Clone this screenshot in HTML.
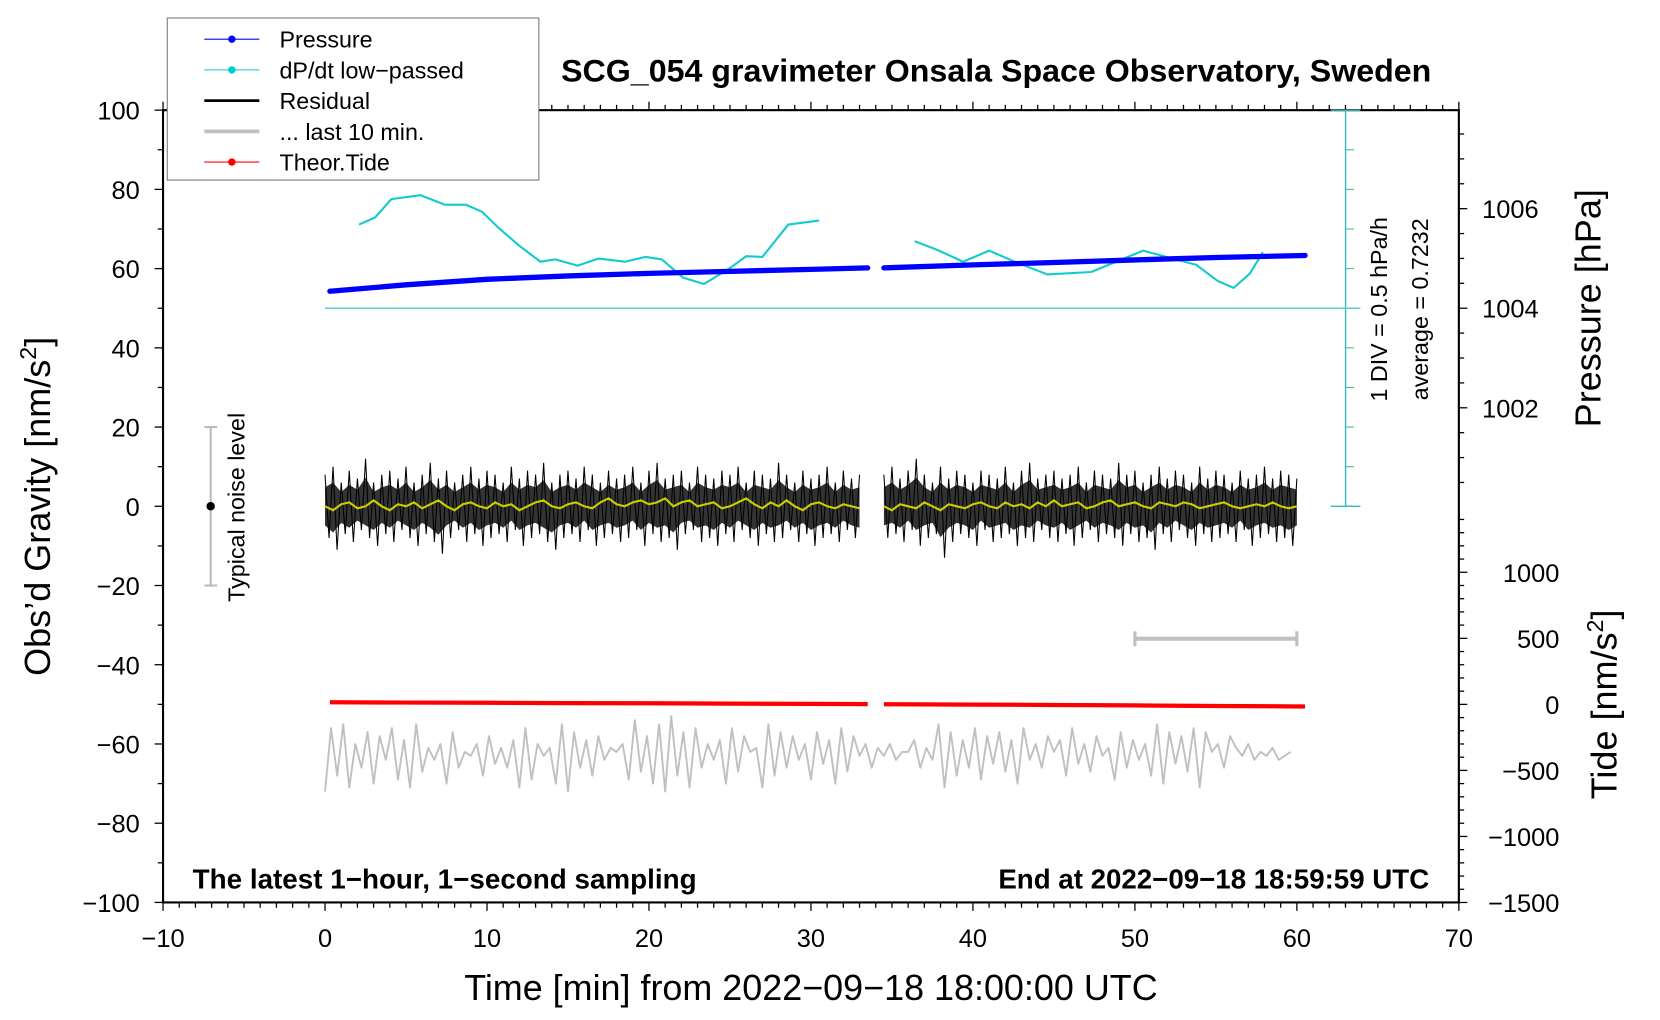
<!DOCTYPE html>
<html><head><meta charset="utf-8"><style>
html,body{margin:0;padding:0;background:#fff;width:1660px;height:1020px;overflow:hidden}
svg{display:block;font-family:"Liberation Sans",sans-serif}
</style></head><body>
<svg id="chart" width="1660" height="1020" viewBox="0 0 1568 963" preserveAspectRatio="none" xmlns="http://www.w3.org/2000/svg">
<g id="axes"></g>
<g id="series"></g>
<text x="941" y="77" text-anchor="middle" font-size="30" font-weight="bold" textLength="822" lengthAdjust="spacingAndGlyphs">SCG_054 gravimeter Onsala Space Observatory, Sweden</text>
<text x="766" y="944" text-anchor="middle" font-size="34" textLength="655" lengthAdjust="spacingAndGlyphs">Time [min] from 2022−09−18 18:00:00 UTC</text>
<text transform="translate(47,478) rotate(-90)" text-anchor="middle" font-size="34">Obs’d Gravity [nm/s<tspan dy="-13" font-size="22">2</tspan><tspan dy="13">]</tspan></text>
<text transform="translate(1512,291) rotate(-90)" text-anchor="middle" font-size="34">Pressure [hPa]</text>
<text transform="translate(1527,665) rotate(-90)" text-anchor="middle" font-size="34">Tide [nm/s<tspan dy="-13" font-size="22">2</tspan><tspan dy="13">]</tspan></text>
<text x="182" y="839" font-size="26" font-weight="bold" textLength="476" lengthAdjust="spacingAndGlyphs">The latest 1−hour, 1−second sampling</text>
<text x="943" y="839" font-size="26" font-weight="bold" textLength="407" lengthAdjust="spacingAndGlyphs">End at 2022−09−18 18:59:59 UTC</text>
<text transform="translate(1310,292) rotate(-90)" text-anchor="middle" font-size="22">1 DIV = 0.5 hPa/h</text>
<text transform="translate(1349,292) rotate(-90)" text-anchor="middle" font-size="22">average = 0.7232</text>
<text transform="translate(231,479) rotate(-90)" text-anchor="middle" font-size="22">Typical noise level</text>
<g>
<rect x="158" y="17" width="351" height="153" fill="#fff" stroke="#777" stroke-width="1"/>
<g><line x1="193" y1="37" x2="245" y2="37" stroke="#00f" stroke-width="1"/><circle cx="219" cy="37" r="3.5" fill="#00f"/><text x="264" y="45" font-size="22">Pressure</text></g>
<g><line x1="193" y1="66" x2="245" y2="66" stroke="#0cc" stroke-width="1"/><circle cx="219" cy="66" r="3.5" fill="#0cc"/><text x="264" y="74" font-size="22">dP/dt low−passed</text></g>
<g><line x1="193" y1="95" x2="245" y2="95" stroke="#000" stroke-width="2.5"/><text x="264" y="103" font-size="22">Residual</text></g>
<g><line x1="193" y1="124" x2="245" y2="124" stroke="#c0c0c0" stroke-width="3.5"/><text x="264" y="132" font-size="22">... last 10 min.</text></g>
<g><line x1="193" y1="153" x2="245" y2="153" stroke="#f00" stroke-width="1"/><circle cx="219" cy="153" r="3.5" fill="#f00"/><text x="264" y="161" font-size="22">Theor.Tide</text></g>
</g>
</svg>
<script>
// ---- data ----
const pressT1 = [0.3,5,10,15,20,25,30,33.5];
const pressV1 = [1004.34,1004.47,1004.58,1004.65,1004.70,1004.74,1004.78,1004.81];
const pressT2 = [34.5,40,45,50,55,60.5];
const pressV2 = [1004.81,1004.87,1004.92,1004.97,1005.02,1005.06];
const dpdtT1 = [2.1,3.1,4.1,5.9,7.4,8.7,9.7,10.7,12.0,13.3,14.2,15.6,16.9,18.5,19.8,20.8,22.1,23.4,25.0,26.0,27.0,28.6,30.5];
const dpdtV1 = [1.78,1.87,2.10,2.15,2.03,2.03,1.94,1.74,1.51,1.31,1.34,1.26,1.35,1.31,1.37,1.34,1.11,1.03,1.23,1.38,1.37,1.78,1.83];
const dpdtT2 = [36.4,37.8,39.4,41.0,42.7,44.6,47.3,49.2,50.5,51.8,53.8,55.1,56.1,57.1,57.9];
const dpdtV2 = [1.57,1.46,1.31,1.45,1.30,1.15,1.18,1.34,1.45,1.38,1.27,1.07,0.98,1.16,1.43];
const dpdtAverage = 0.7232;
const resHi = [8,10,6,9,7,12,6,8,9,7, 10,6,8,11,7,9,6,8,10,7, 9,8,6,10,7,9,8,11,6,8, 9,7,10,8,6,9,7,8,10,6, 9,11,7,8,9,6,10,8,7,9, 8,10,6,9,8,7,11,8,6,9, 7,8,10,6,9,7,8,null,null,8, 10,7,9,12,8,6,10,7,9,8, 6,9,8,7,10,6,9,11,7,8, 9,7,8,10,6,9,8,7,11,8, 9,6,8,10,7,9,8,6,10,7, 9,8,6,9,7,8,10,7,9,8, 7];
const resLo = [-8,-11,-7,-9,-6,-8,-10,-7,-9,-6, -8,-10,-7,-9,-12,-8,-6,-9,-7,-10, -8,-7,-9,-6,-10,-8,-7,-9,-11,-8, -7,-9,-6,-10,-8,-7,-9,-8,-6,-10, -7,-9,-8,-11,-7,-6,-9,-8,-10,-7, -9,-6,-8,-10,-7,-9,-8,-6,-9,-7, -10,-8,-7,-9,-6,-8,-9,null,null,-8, -7,-9,-6,-10,-8,-7,-13,-9,-7,-8, -10,-6,-9,-8,-7,-10,-8,-9,-6,-8, -9,-7,-10,-8,-6,-9,-7,-8,-10,-7, -9,-8,-11,-7,-9,-6,-8,-10,-7,-9, -8,-7,-9,-6,-10,-8,-7,-9,-8,-10, -8];
const resSmooth = [0,-1,0.5,1,-0.5,0,1.5,0,-1,0.5, 0,1,-0.5,0.5,1.5,0,-1,0.5,1,0, -0.5,1,0,0.5,-1,0,1,1.5,0,-0.5, 0.5,1,0,-0.5,1,2,0.5,0,1,1.5, 0.5,1,2,0,1,1.5,0,0.5,1,-0.5, 0,1,2,0.5,-0.5,1,0,1.5,0,-1, 0.5,1,0,-0.5,0.5,0,-0.5,null,null,0, -1,0.5,0,-0.5,1,0,-1,0.5,0,-0.5, 0.5,1,0,-0.5,1,0,0.5,-0.5,1,0, 1.5,0,0.5,1,-0.5,0,1,1.5,0,0.5, 1,0,-0.5,1,0.5,0,1,0.5,-0.5,0, 0.5,1,0,-0.5,0,0.5,0,1,0,-0.5, 0];
const resStep = 0.5;
const last10 = [-72,-56,-68,-55,-71,-60,-66,-57,-70,-58,-64,-56,-69,-59,-71,-55,-67,-61,-64,-60,
-70,-57,-66,-62,-63,-60,-68,-58,-65,-61,-66,-59,-71,-56,-69,-60,-63,-61,-70,-55,
-72,-57,-66,-59,-68,-58,-64,-61,-62,-60,-69,-54,-67,-58,-70,-55,-72,-53,-68,-57,
-71,-56,-66,-60,-64,-59,-70,-56,-67,-58,-62,-61,-71,-55,-68,-57,-66,-58,-64,-60,
-69,-57,-65,-59,-70,-56,-67,-58,-63,-60,-66,-61,-63,-60,-64,-62,-62,-59,-66,-61,
-64,-55,-71,-57,-68,-59,-66,-56,-69,-58,-65,-57,-67,-59,-70,-56,-64,-60,-66,-58,
-62,-59,-68,-56,-65,-60,-67,-58,-63,-61,-69,-57,-66,-59,-64,-60,-68,-55,-70,-57,
-65,-58,-67,-56,-71,-57,-62,-60,-66,-58,-61,-63,-60,-64,-62,-63,-61,-64,-63,-62];
const last10Step = 0.375;
const tideT1 = [0.3,5,10,15,20,25,30,33.5];
const tideV1 = [16,14,12,10,8,6,4,2];
const tideT2 = [34.5,40,45,50,55,60.5];
const tideV2 = [1,-2,-5,-8,-12,-16];
const xTicks = [-10,0,10,20,30,40,50,60,70];
const gTicks = [100,80,60,40,20,0,-20,-40,-60,-80,-100];
const pTicks = [1006,1004,1002];
const tTicks = [1000,500,0,-500,-1000,-1500];

// ---- scales ----
const xS = t => 307 + t*15.3;
const yG = v => 478 - v*3.74;
const yP = p => 291 - (p-1004)*47;
const yT = v => 665 - v*0.1247;
const yR = r => 291 - (r-dpdtAverage)/0.5*37.4;

const NS = "http://www.w3.org/2000/svg";
const axes = document.getElementById('axes');
const series = document.getElementById('series');
function mk(tag, attrs, parent){
  const e = document.createElementNS(NS, tag);
  for (const k in attrs) e.setAttribute(k, attrs[k]);
  parent.appendChild(e); return e;
}
function pathFrom(ts, vs, ys){
  let d = "", pen = false;
  for (let i=0;i<vs.length;i++){
    if (vs[i]===null){pen=false;continue;}
    d += (pen?"L":"M") + xS(ts[i]).toFixed(1) + "," + ys(vs[i]).toFixed(1);
    pen = true;
  }
  return d;
}

const frame = mk('rect',{x:154,y:104,width:1224,height:748,fill:'none',stroke:'#000','stroke-width':2},axes);



for (let t=-10;t<=70;t++){
  const major = t%10===0;
  const L = major?8:5;
  mk('line',{x1:xS(t),x2:xS(t),y1:852,y2:852+L,stroke:'#000','stroke-width':1.2},axes);
  mk('line',{x1:xS(t),x2:xS(t),y1:104,y2:104-L,stroke:'#000','stroke-width':1.2},axes);
}
xTicks.forEach(t=>{
  const lb = mk('text',{x:xS(t),y:894,'text-anchor':'middle','font-size':24},axes);
  lb.textContent = t<0 ? '−'+(-t) : String(t);
  
  
});
for (let v=-100;v<=100;v+=10){
  const L = v%20===0?8:5;
  mk('line',{x1:154,x2:154-L,y1:yG(v),y2:yG(v),stroke:'#000','stroke-width':1.2},axes);
}
gTicks.forEach(v=>{
  const lb = mk('text',{x:132,y:yG(v)+9,'text-anchor':'end','font-size':24},axes);
  lb.textContent = v<0 ? '−'+(-v) : String(v);
  
  
});
for (let p=1000;p<=1008;p+=0.5){
  const y=yP(p); if (y<104||y>478) continue;
  const L = (Math.abs(p%2)<1e-9)?8:5;
  mk('line',{x1:1378,x2:1378+L,y1:y,y2:y,stroke:'#000','stroke-width':1.2},axes);
}
pTicks.forEach(p=>{
  const lb = mk('text',{x:1400,y:yP(p)+9,'font-size':24},axes);
  lb.textContent = String(p);
  
  
});
for (let v=-1500;v<=1400;v+=100){
  const L = v%500===0?8:5;
  mk('line',{x1:1378,x2:1378+L,y1:yT(v),y2:yT(v),stroke:'#000','stroke-width':1.2},axes);
}
tTicks.forEach(v=>{
  const lb = mk('text',{x:1473,y:yT(v)+9,'text-anchor':'end','font-size':24},axes);
  lb.textContent = v<0 ? '−'+(-v) : String(v);
  
  
});

const sc = mk('g',{},axes);


mk('line',{x1:1271,x2:1271,y1:104,y2:478,stroke:'#3bb','stroke-width':1.3},sc);
for (let k=0;k<=10;k++){
  const y = 104 + k*37.4;
  mk('line',{x1:1271,x2:1279,y1:y,y2:y,stroke:'#3bb','stroke-width':1},sc);
}
mk('line',{x1:1257,x2:1285,y1:478,y2:478,stroke:'#3bb','stroke-width':1.3},sc);
mk('line',{x1:1257,x2:1285,y1:104,y2:104,stroke:'#3bb','stroke-width':1.3},sc);
const avg = mk('line',{x1:307,x2:1285,y1:yR(dpdtAverage),y2:yR(dpdtAverage),stroke:'#5cc','stroke-width':1.3},axes);



const nz = mk('g',{},axes);


mk('line',{x1:199,x2:199,y1:yG(20),y2:yG(-20),stroke:'#bbb','stroke-width':2},nz);
mk('line',{x1:193,x2:205,y1:yG(20),y2:yG(20),stroke:'#bbb','stroke-width':2},nz);
mk('line',{x1:193,x2:205,y1:yG(-20),y2:yG(-20),stroke:'#bbb','stroke-width':2},nz);
mk('circle',{cx:199,cy:yG(0),r:4,fill:'#000'},nz);

const lb10 = mk('g',{},axes);


mk('line',{x1:xS(50),x2:xS(60),y1:603,y2:603,stroke:'#c0c0c0','stroke-width':4},lb10);
mk('line',{x1:xS(50),x2:xS(50),y1:596,y2:610,stroke:'#c0c0c0','stroke-width':3},lb10);
mk('line',{x1:xS(60),x2:xS(60),y1:596,y2:610,stroke:'#c0c0c0','stroke-width':3},lb10);

[[dpdtT1,dpdtV1],[dpdtT2,dpdtV2]].forEach(([ts,vs])=>{
  const p = mk('path',{d:pathFrom(ts,vs,yR),fill:'none',stroke:'#1cc','stroke-width':2,'stroke-linejoin':'round'},series);
  
  
});
[[pressT1,pressV1],[pressT2,pressV2]].forEach(([ts,vs])=>{
  const p = mk('path',{d:pathFrom(ts,vs,yP),fill:'none',stroke:'#00f','stroke-width':5,'stroke-linecap':'round'},series);
  
  
});
const resT = resHi.map((_,i)=>i*resStep);
let segs=[],cur=[];
resT.forEach((t,i)=>{ if(resHi[i]===null){ if(cur.length) segs.push(cur); cur=[]; } else cur.push(i); });
if(cur.length) segs.push(cur);
segs.forEach(idx=>{
  let d = "M"+idx.map(i=>xS(resT[i]).toFixed(1)+","+yG(resHi[i]*0.6).toFixed(1)).join("L");
  d += "L"+idx.slice().reverse().map(i=>xS(resT[i]).toFixed(1)+","+yG(resLo[i]*0.6).toFixed(1)).join("L")+"Z";
  const poly = mk('path',{d:d,fill:'#000','fill-opacity':0.8},series);
  
  
  let z = "";
  idx.forEach((i,k)=>{
    const x = xS(resT[i]);
    const last = k===idx.length-1;
    z += (k===0?"M":"L")+x.toFixed(1)+","+yG(resHi[i]).toFixed(1);
    if(!last) z += "L"+(x+3.8).toFixed(1)+","+yG(resLo[i]).toFixed(1);
  });
  const zz = mk('path',{d:z,fill:'none',stroke:'#000','stroke-width':1},series);
  
  
});
const ys = mk('path',{d:pathFrom(resT,resSmooth,yG),fill:'none',stroke:'#cc0','stroke-width':2},series);


[[tideT1,tideV1],[tideT2,tideV2]].forEach(([ts,vs])=>{
  const p = mk('path',{d:pathFrom(ts,vs,yT),fill:'none',stroke:'#f00','stroke-width':4},series);
  
  
});
const l10T = last10.map((_,i)=>i*last10Step);
const gl = mk('path',{d:pathFrom(l10T,last10,yG),fill:'none',stroke:'#c0c0c0','stroke-width':1.8,'stroke-linejoin':'round'},series);


</script>
</body></html>
